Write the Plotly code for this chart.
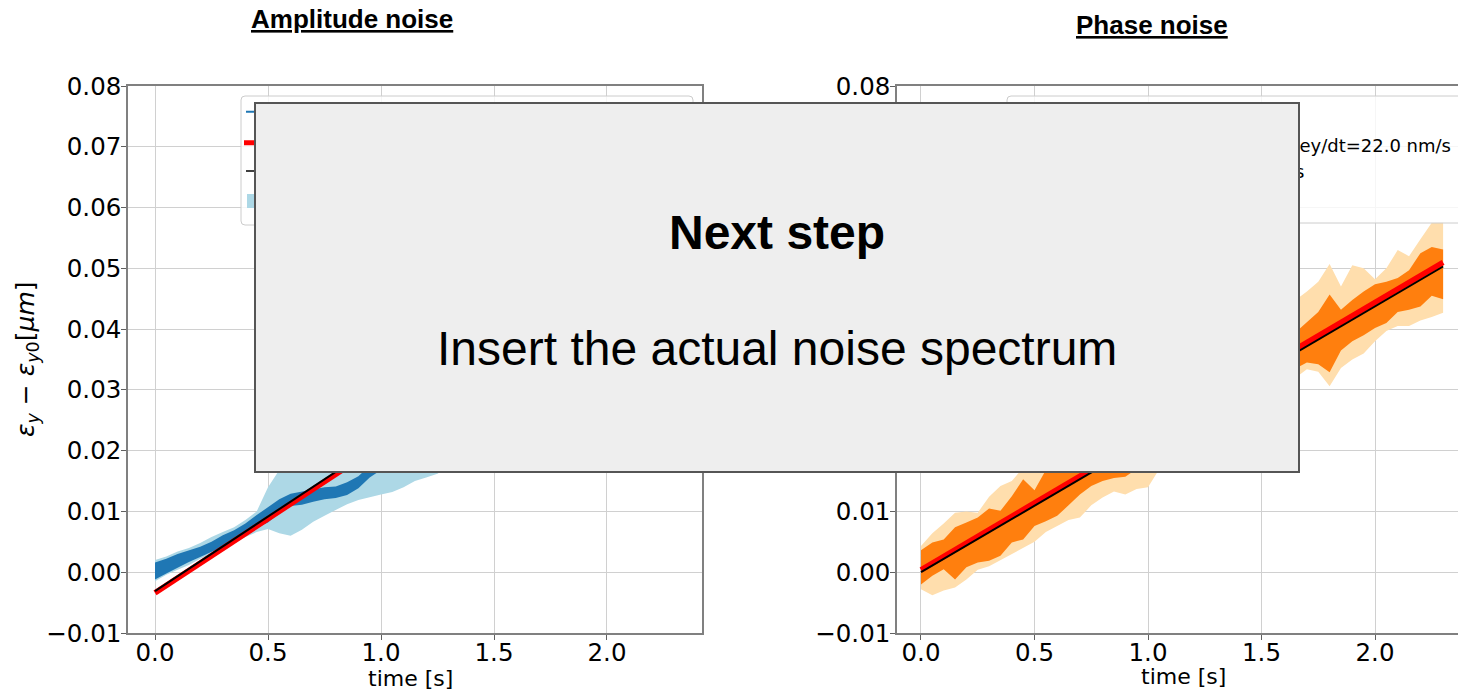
import plotly.graph_objects as go

W, H = 1458, 690

# ---------------- data ----------------
t = [0.00, 0.05, 0.10, 0.15, 0.20, 0.25, 0.30, 0.35, 0.40, 0.45,
     0.50, 0.55, 0.60, 0.65, 0.70, 0.75, 0.80, 0.85, 0.90, 0.95,
     1.00, 1.05, 1.10, 1.15, 1.20, 1.25, 1.30, 1.35, 1.40, 1.45,
     1.50, 1.55, 1.60, 1.65, 1.70, 1.75, 1.80, 1.85, 1.90, 1.95,
     2.00, 2.05, 2.10, 2.15, 2.20, 2.25, 2.30]

# amplitude noise: inner (dark) and outer (light) envelopes, in um
amp_dark_hi = [0.0016, 0.0022, 0.0030, 0.0036, 0.0042, 0.0050, 0.0061, 0.0069, 0.0080, 0.0094,
               0.0107, 0.0120, 0.0129, 0.0133, 0.0137, 0.0140, 0.0141, 0.0148, 0.0158, 0.0175,
               0.0190, 0.0200, 0.0212, 0.0225, 0.0240, 0.0255, 0.0270, 0.0290, 0.0310, 0.0326,
               0.0340, 0.0356, 0.0374, 0.0390, 0.0404, 0.0418, 0.0432, 0.0446, 0.0460, 0.0474,
               0.0488, 0.0502, 0.0516, 0.0530, 0.0544, 0.0556, 0.0568]
amp_dark_lo = [-0.0012, -0.0002, 0.0008, 0.0017, 0.0025, 0.0033, 0.0042, 0.0050, 0.0062, 0.0073,
               0.0082, 0.0098, 0.0109, 0.0111, 0.0116, 0.0120, 0.0122, 0.0127, 0.0138, 0.0156,
               0.0168, 0.0178, 0.0186, 0.0194, 0.0204, 0.0214, 0.0226, 0.0245, 0.0262, 0.0278,
               0.0292, 0.0306, 0.0322, 0.0338, 0.0352, 0.0364, 0.0378, 0.0390, 0.0402, 0.0416,
               0.0428, 0.0440, 0.0454, 0.0466, 0.0478, 0.0490, 0.0500]
amp_light_hi = [0.0020, 0.0026, 0.0034, 0.0040, 0.0048, 0.0058, 0.0066, 0.0074, 0.0086, 0.0100,
                0.0140, 0.0168, 0.0178, 0.0186, 0.0192, 0.0198, 0.0204, 0.0210, 0.0216, 0.0224,
                0.0232, 0.0242, 0.0254, 0.0266, 0.0282, 0.0300, 0.0318, 0.0340, 0.0360, 0.0376,
                0.0392, 0.0408, 0.0426, 0.0444, 0.0460, 0.0474, 0.0490, 0.0504, 0.0518, 0.0534,
                0.0548, 0.0562, 0.0578, 0.0592, 0.0606, 0.0620, 0.0632]
amp_light_lo = [-0.0015, -0.0004, 0.0004, 0.0012, 0.0022, 0.0030, 0.0036, 0.0048, 0.0058, 0.0066,
                0.0071, 0.0064, 0.0060, 0.0070, 0.0083, 0.0093, 0.0103, 0.0112, 0.0119, 0.0123,
                0.0128, 0.0132, 0.0140, 0.0150, 0.0156, 0.0162, 0.0175, 0.0195, 0.0212, 0.0228,
                0.0240, 0.0254, 0.0270, 0.0286, 0.0298, 0.0310, 0.0322, 0.0334, 0.0346, 0.0358,
                0.0370, 0.0382, 0.0394, 0.0406, 0.0418, 0.0430, 0.0440]

# phase noise envelopes
ph_dark_hi = [0.0036, 0.0049, 0.0054, 0.0074, 0.0082, 0.0090, 0.0105, 0.0101, 0.0125, 0.0153,
              0.0135, 0.0168, 0.0175, 0.0185, 0.0192, 0.0198, 0.0208, 0.0215, 0.0225, 0.0235,
              0.0245, 0.0255, 0.0265, 0.0275, 0.0285, 0.0296, 0.0306, 0.0316, 0.0328, 0.0338,
              0.0350, 0.0362, 0.0378, 0.0395, 0.0412, 0.0428, 0.0457, 0.0432, 0.0448, 0.0462,
              0.0474, 0.0478, 0.0484, 0.0497, 0.0525, 0.0535, 0.0531]
ph_dark_lo = [-0.0020, -0.0006, 0.0005, -0.0012, 0.0008, 0.0016, 0.0019, 0.0027, 0.0049, 0.0054,
              0.0076, 0.0084, 0.0093, 0.0110, 0.0128, 0.0142, 0.0150, 0.0155, 0.0157, 0.0170,
              0.0178, 0.0190, 0.0198, 0.0208, 0.0218, 0.0228, 0.0238, 0.0248, 0.0258, 0.0268,
              0.0280, 0.0292, 0.0310, 0.0335, 0.0345, 0.0342, 0.0329, 0.0365, 0.0380, 0.0390,
              0.0402, 0.0410, 0.0428, 0.0432, 0.0437, 0.0455, 0.0449]
ph_light_hi = [0.0043, 0.0064, 0.0080, 0.0098, 0.0100, 0.0098, 0.0124, 0.0142, 0.0150, 0.0172,
               0.0170, 0.0190, 0.0200, 0.0215, 0.0225, 0.0232, 0.0242, 0.0250, 0.0262, 0.0274,
               0.0285, 0.0295, 0.0305, 0.0316, 0.0326, 0.0338, 0.0348, 0.0360, 0.0372, 0.0384,
               0.0398, 0.0412, 0.0430, 0.0448, 0.0462, 0.0478, 0.0507, 0.0470, 0.0505, 0.0500,
               0.0482, 0.0500, 0.0530, 0.0520, 0.0548, 0.0575, 0.0576]
ph_light_lo = [-0.0028, -0.0038, -0.0030, -0.0025, -0.0012, 0.0004, 0.0010, 0.0020, 0.0030, 0.0040,
               0.0050, 0.0066, 0.0076, 0.0086, 0.0090, 0.0110, 0.0123, 0.0133, 0.0128, 0.0137,
               0.0140, 0.0170, 0.0175, 0.0185, 0.0193, 0.0202, 0.0210, 0.0220, 0.0230, 0.0240,
               0.0252, 0.0266, 0.0290, 0.0320, 0.0334, 0.0330, 0.0306, 0.0336, 0.0350, 0.0360,
               0.0380, 0.0397, 0.0405, 0.0405, 0.0414, 0.0420, 0.0427]

# straight-line fits (red) and reference drift (black), end points
fit_t = [0.0, 2.3]
amp_fit = [-0.0034, 0.0527]
amp_ref = [-0.0031, 0.0533]
ph_fit = [0.0004, 0.0510]
ph_ref = [0.0000, 0.0503]

ph_slope_nm = (ph_fit[1] - ph_fit[0]) / (fit_t[1] - fit_t[0]) * 1000.0

# ---------------- helpers (pixel -> paper) ----------------
def px(x):
    return x / W


def py(y):
    return 1 - y / H


def band(xs, lo, hi, color, xa, ya):
    return go.Scatter(x=xs + xs[::-1], y=hi + lo[::-1], fill="toself",
                      fillcolor=color, line=dict(width=0), mode="lines",
                      hoverinfo="skip", xaxis=xa, yaxis=ya, showlegend=False)


def rounded_rect(x0, y0, x1, y1, r):
    X0, X1 = px(x0), px(x1)
    Y0, Y1 = py(y0), py(y1)
    rx, ry = r / W, r / H
    return (f"M {X0 + rx},{Y0} L {X1 - rx},{Y0} Q {X1},{Y0} {X1},{Y0 - ry} "
            f"L {X1},{Y1 + ry} Q {X1},{Y1} {X1 - rx},{Y1} L {X0 + rx},{Y1} "
            f"Q {X0},{Y1} {X0},{Y1 + ry} L {X0},{Y0 - ry} Q {X0},{Y0} {X0 + rx},{Y0} Z")


fig = go.Figure()

# amplitude noise panel
fig.add_trace(band(t, amp_light_lo, amp_light_hi, "lightblue", "x", "y"))
fig.add_trace(band(t, amp_dark_lo, amp_dark_hi, "#1f77b4", "x", "y"))
fig.add_trace(go.Scatter(x=fit_t, y=amp_fit, mode="lines", line=dict(color="red", width=5.5),
                         xaxis="x", yaxis="y", showlegend=False))
fig.add_trace(go.Scatter(x=fit_t, y=amp_ref, mode="lines", line=dict(color="black", width=2),
                         xaxis="x", yaxis="y", showlegend=False))

# phase noise panel
fig.add_trace(band(t, ph_light_lo, ph_light_hi, "navajowhite", "x2", "y2"))
fig.add_trace(band(t, ph_dark_lo, ph_dark_hi, "#ff7f0e", "x2", "y2"))
fig.add_trace(go.Scatter(x=fit_t, y=ph_fit, mode="lines", line=dict(color="red", width=5.5),
                         xaxis="x2", yaxis="y2", showlegend=False))
fig.add_trace(go.Scatter(x=fit_t, y=ph_ref, mode="lines", line=dict(color="black", width=2),
                         xaxis="x2", yaxis="y2", showlegend=False))

tickfont = dict(family="DejaVu Sans", size=24.5, color="black")
common = dict(showgrid=True, gridcolor="#d0d0d0", gridwidth=1, zeroline=False,
              showline=True, linecolor="#808080", linewidth=1.5,
              ticks="outside", ticklen=5, tickwidth=1, tickcolor="#606060",
              tickfont=tickfont)

fig.update_layout(
    width=W, height=H, margin=dict(l=0, r=0, t=0, b=0),
    paper_bgcolor="white", plot_bgcolor="white", template="none", showlegend=False,
    xaxis=dict(domain=[px(128), px(702)], range=[-0.1195, 2.4204], dtick=0.5, tick0=0,
               tickformat=".1f", mirror=True, anchor="y", ticklabelstandoff=-8, **common),
    yaxis=dict(domain=[py(633), py(86)], range=[-0.01, 0.08], dtick=0.01, tick0=0,
               tickformat=".2f", mirror=True, anchor="x", ticklabelstandoff=-5, **common),
    xaxis2=dict(domain=[px(897), 1.0], range=[-0.1057, 2.3656], dtick=0.5, tick0=0,
                tickformat=".1f", mirror=True, anchor="y2", ticklabelstandoff=-8, **common),
    yaxis2=dict(domain=[py(633), py(86)], range=[-0.01, 0.08], dtick=0.01, tick0=0,
                tickformat=".2f", mirror=False, anchor="x2", ticklabelstandoff=-5, **common),
)

# legend frames and handles
shapes = []
for (x0, y0, x1, y1) in [(241, 96, 693, 225), (1007, 96, 1475, 223)]:
    shapes.append(dict(type="path", xref="paper", yref="paper", layer="above",
                       path=rounded_rect(x0, y0, x1, y1, 4),
                       fillcolor="rgba(255,255,255,0.8)", line=dict(color="#cccccc", width=1)))


def hline(x0, x1, y, color, width):
    return dict(type="line", xref="paper", yref="paper", layer="above",
                x0=px(x0), x1=px(x1), y0=py(y), y1=py(y), line=dict(color=color, width=width))


def patch(x0, x1, y0, y1, color):
    return dict(type="rect", xref="paper", yref="paper", layer="above",
                x0=px(x0), x1=px(x1), y0=py(y1), y1=py(y0), fillcolor=color, line=dict(width=0))


for off, (c_line, c_patch) in [(0, ("#1f77b4", "lightblue")), (766, ("#ff7f0e", "navajowhite"))]:
    shapes.append(hline(246 + off, 290 + off, 111.7, c_line, 2))
    shapes.append(hline(244 + off, 290 + off, 142.7, "red", 5))
    shapes.append(hline(246 + off, 290 + off, 171, "black", 1.5))
    shapes.append(patch(247 + off, 290 + off, 194, 208, c_patch))
fig.update_layout(shapes=shapes)

ann = []
# legend labels of the phase panel
legend_font = dict(family="DejaVu Sans", size=18, color="black")
ann.append(dict(xref="paper", yref="paper", x=px(1453), y=py(145), xanchor="right", yanchor="middle",
                text=f"dey/dt={ph_slope_nm:.1f} nm/s", showarrow=False, font=legend_font))
ann.append(dict(xref="paper", yref="paper", x=px(1306), y=py(171), xanchor="right", yanchor="middle",
                text="nm/s", showarrow=False, font=legend_font))

# panel titles
title_font = dict(family="Liberation Sans, Arial", size=26, color="black")
ann.append(dict(xref="paper", yref="paper", x=px(352), y=py(19), xanchor="center", yanchor="middle",
                text="<b><u>Amplitude noise</u></b>", showarrow=False, font=title_font))
ann.append(dict(xref="paper", yref="paper", x=px(1152), y=py(25), xanchor="center", yanchor="middle",
                text="<b><u>Phase noise</u></b>", showarrow=False, font=title_font))

# axis titles
axis_font = dict(family="DejaVu Sans", size=22, color="black")
ann.append(dict(xref="paper", yref="paper", x=px(410), y=py(678), xanchor="center", yanchor="middle",
                text="time [s]", showarrow=False, font=axis_font))
ann.append(dict(xref="paper", yref="paper", x=px(1183), y=py(676), xanchor="center", yanchor="middle",
                text="time [s]", showarrow=False, font=axis_font))
ann.append(dict(xref="paper", yref="paper", x=px(27), y=py(359), xanchor="center", yanchor="middle",
                textangle=-90, showarrow=False, font=dict(family="DejaVu Sans", size=25, color="black"),
                text="<i>ε</i><sub><i>y</i></sub> − <i>ε</i><sub><i>y</i>0</sub>[<i>μm</i>]"))

# "next step" panel on top of everything
ann.append(dict(xref="paper", yref="paper", x=px(777), y=py(287.5), xanchor="center", yanchor="middle",
                text=" ", showarrow=False, width=1042, height=367, borderpad=0,
                bgcolor="#eeeeee", bordercolor="#555555", borderwidth=2))
ann.append(dict(xref="paper", yref="paper", x=px(777), y=py(232), xanchor="center", yanchor="middle",
                text="<b>Next step</b>", showarrow=False,
                font=dict(family="Liberation Sans, Arial", size=48, color="black")))
ann.append(dict(xref="paper", yref="paper", x=px(777), y=py(348), xanchor="center", yanchor="middle",
                text="Insert the actual noise spectrum", showarrow=False,
                font=dict(family="Liberation Sans, Arial", size=48, color="black")))
fig.update_layout(annotations=ann)

fig.write_html("out.html")
